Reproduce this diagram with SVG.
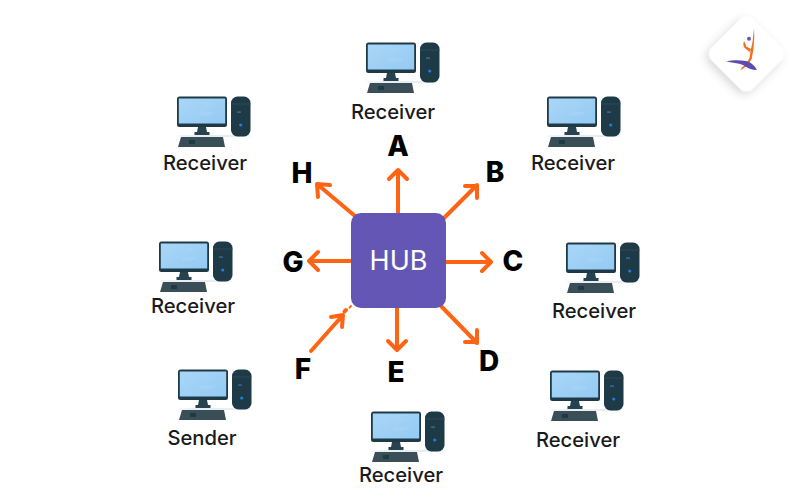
<svg xmlns="http://www.w3.org/2000/svg" width="800" height="500" viewBox="0 0 800 500">
<style>
.lbl{font-family:"Inter","Liberation Sans",sans-serif;font-size:20.200px;font-weight:500;fill:#1a1a1a;text-anchor:middle}
.let{font-family:"Inter","Liberation Sans",sans-serif;font-size:28px;font-weight:800;fill:#000;text-anchor:middle}
.hub{font-family:"Inter","Liberation Sans",sans-serif;font-size:27px;font-weight:400;fill:#fff;text-anchor:middle}
.ar{fill:none;stroke:#ff6414;stroke-width:4;stroke-linecap:round;stroke-linejoin:round}
</style>
<defs>
<filter id="sh" x="-40%" y="-40%" width="180%" height="180%"><feDropShadow dx="0" dy="4" stdDeviation="5" flood-color="#000" flood-opacity="0.16"/></filter>
<linearGradient id="scr" x1="0" y1="0" x2="1" y2="1"><stop offset="0" stop-color="#a9d6f7"/><stop offset="1" stop-color="#94caf3"/></linearGradient>
<g id="pc">
<ellipse cx="37" cy="40" rx="37" ry="1" fill="#e6eef2"/>
<rect x="0" y="0.500" width="50" height="30.500" rx="2.500" fill="#1f3a47"/>
<rect x="1.800" y="2.500" width="46.400" height="25" fill="url(#scr)"/>
<path d="M18 8c8-3 14-2 17 0-3 3-10 5-12 7 4 2 11 0 15 2-4 3-12 4-17 2 3-4 9-6 10-8-4-2-9-1-13-3z" fill="#a3d2f6"/>
<path d="M21 31h8l1 5h2.500v3h-15v-3h2.500z" fill="#27434f"/>
<path d="M4 41h42l2 10H1z" fill="#3a4e58"/>
<rect x="12" y="44" width="6" height="4" fill="#1f3a47"/>
<rect x="54" y="0.500" width="19.500" height="40" rx="6.500" fill="#1f3a47"/>
<path d="M54 8h19.500" stroke="#2d4b58" stroke-width="1"/>
<rect x="60" y="15.500" width="4" height="1.200" fill="#3d78a8"/>
<circle cx="63.700" cy="29" r="1.600" fill="#1f7fe0"/>
</g>
</defs>
<rect width="800" height="500" fill="#fff"/>
<g id="connectors" class="ar">
<path d="M398 213V170M389 179l9-9 9 9"/>
<path d="M444 218l33-33M465 186h12v12"/>
<path d="M446 262h45M482 253l9 9-9 9"/>
<path d="M441 306l36 37M465 342h12v-12"/>
<path d="M397 308v42M388 341l9 9 9-9"/>
<path d="M311 351l32-36M331 317l12-2-1 12"/>
<path d="M352 261h-43M318 252l-9 9 9 9"/>
<path d="M355 216l-38-32M330 185l-13-1 1 13"/>
<path d="M346 310l-1.500 1.500" />
<path d="M351 306l-1.500 1.500" stroke-width="2"/>
</g>
<g id="hub"><rect x="351" y="213" width="95" height="95" rx="10" fill="#6356b4"/><text class="hub" x="398.500" y="270">HUB</text></g>
<g id="node-a"><use href="#pc" x="366" y="42"/><text class="lbl" x="393" y="119">Receiver</text><text class="let" x="398" y="156">A</text></g>
<g id="node-b"><use href="#pc" x="547" y="96"/><text class="lbl" x="573" y="170">Receiver</text><text class="let" x="495" y="182">B</text></g>
<g id="node-c"><use href="#pc" x="566" y="242"/><text class="lbl" x="594" y="318">Receiver</text><text class="let" x="513" y="271">C</text></g>
<g id="node-d"><use href="#pc" x="550" y="370"/><text class="lbl" x="578" y="447">Receiver</text><text class="let" x="489" y="371">D</text></g>
<g id="node-e"><use href="#pc" x="371" y="411"/><text class="lbl" x="401" y="482">Receiver</text><text class="let" x="396" y="382">E</text></g>
<g id="node-f"><use href="#pc" x="178" y="369"/><text class="lbl" x="202" y="445">Sender</text><text class="let" x="303" y="379">F</text></g>
<g id="node-g"><use href="#pc" x="159" y="241"/><text class="lbl" x="193" y="313">Receiver</text><text class="let" x="293" y="272">G</text></g>
<g id="node-h"><use href="#pc" x="177" y="96"/><text class="lbl" x="205" y="170">Receiver</text><text class="let" x="302" y="183">H</text></g>
<g id="logo">
<rect x="717.500" y="25" width="58" height="58" rx="9" transform="rotate(45 746.500 54)" fill="#fff" filter="url(#sh)"/>
<path d="M754 28l-1.500 14-2 9-1 7-3.500 6-4 3.500-1.800 2.500 2.500-1 5-4 4-6 1.800-10 .8-12z" fill="#f36f21"/>
<path d="M744 41l-.8 3.500 1 3 5.500 4.500 1.500-3-5-2.500-.8-3z" fill="#f36f21"/>
<circle cx="749" cy="38.700" r="2" fill="#6356b4"/>
<path d="M726 61.500c6-1.500 13-1.500 20-.5 5 1 9 5 11 9-5 0-10-2-14-5-5-2-11-2.500-17-3.500z" fill="#5f4bb0"/>
</g>
</svg>
